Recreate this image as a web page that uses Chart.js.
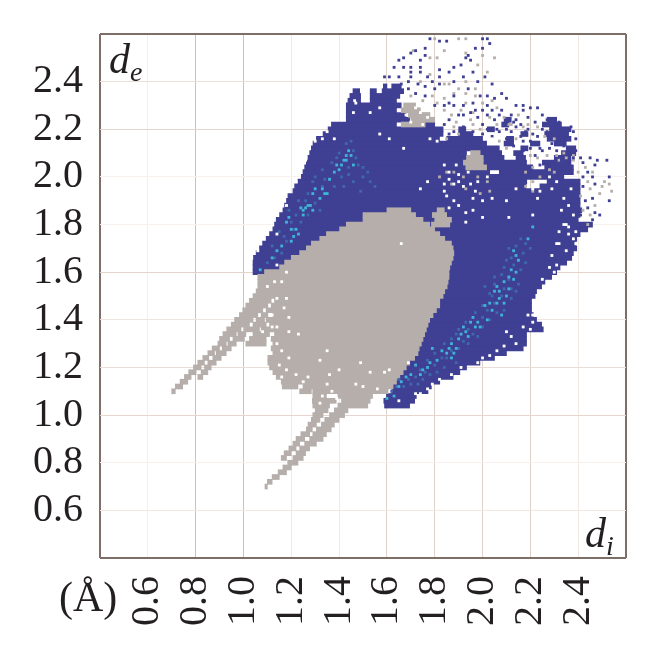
<!DOCTYPE html>
<html>
<head>
<meta charset="utf-8">
<script src="https://cdn.jsdelivr.net/npm/chart.js@4"></script>
<style>
  html, body { margin: 0; background: #fff; }
  #wrap { position: relative; width: 660px; height: 657px; }
  canvas { display: block; }
  .lbl { position: absolute; font-family: "Liberation Serif", serif; color: #231f20; line-height: 1; }
  .lbl i sub { font-size: 28px; vertical-align: -8px; line-height: 0; }
</style>
</head>
<body>
<div id="wrap">
  <canvas id="fingerprint" width="660" height="657"></canvas>
  <div class="lbl" style="left:109px;top:38px;font-size:42px"><i>d<sub>e</sub></i></div>
  <div class="lbl" style="left:585px;top:512px;font-size:42px"><i>d<sub>i</sub></i></div>
  <div class="lbl" style="left:59px;top:576px;font-size:42px">(Å)</div>
</div>
<script>
// tick positions, labels only on the inner ones
const tickValues = [0.4, 0.6, 0.8, 1.0, 1.2, 1.4, 1.6, 1.8, 2.0, 2.2, 2.4, 2.6];
const gridX = ["#7d6e68", "#f6eeea", "#d3bfb6", "#d3bfb6", "#f3e9e4", "#f3e9e4", "#e0d2ca", "#e0d2ca", "#e0d2ca", "#ddcec6", "#f1e8e3", "#7d6e68"];
const gridY = ["#7d6e68", "#f3e7e2", "#f8f0ec", "#e6d6ce", "#eadcd6", "#efe4de", "#e2d3cb", "#f8f1ee", "#f8f1ee", "#e4d6cf", "#ecdfd9", "#7d6e68"];

// [de, di from, di to]
const blueSpans = [
  [1.04,1.59,1.695],[1.06,1.587,1.716],[1.08,1.598,1.723],[1.10,1.62,1.772],[1.12,1.626,1.786],[1.14,1.64,1.821],
  [1.16,1.654,1.877],[1.18,1.668,1.905],[1.20,1.681,1.933],[1.22,1.695,1.989],[1.24,1.716,2.05],[1.26,1.73,2.10],
  [1.28,1.735,2.17],[1.30,1.744,2.184],[1.32,1.751,2.184],[1.34,1.758,2.184],[1.36,1.765,2.254],[1.38,1.772,2.247],
  [1.40,1.779,2.226],[1.42,1.793,2.212],[1.44,1.807,2.205],[1.46,1.821,2.205],[1.48,1.821,2.205],[1.50,1.835,2.22],
  [1.52,1.842,2.226],[1.54,1.852,2.247],[1.56,1.856,2.261],[1.58,1.86,2.289],[1.60,1.04,2.31],[1.62,1.04,2.324],
  [1.64,1.04,2.352],[1.66,1.042,2.373],[1.68,1.053,2.38],[1.70,1.067,2.394],[1.72,1.08,2.387],[1.74,1.095,2.394],
  [1.76,1.109,2.408],[1.78,1.123,2.44],[1.80,1.13,2.46],[1.82,1.137,2.40],[1.84,1.151,2.408],[1.86,1.165,2.415],
  [1.88,1.172,2.408],[1.90,1.18,2.408],[1.92,1.186,2.408],[1.94,1.207,2.408],
  [1.96,1.214,2.18],[1.96,2.24,2.408],[1.98,1.228,2.185],[1.98,2.27,2.408],[2.00,1.242,2.34],
  [2.02,1.249,2.03],[2.02,2.07,2.38],
  [2.04,1.256,1.93],[2.04,2.017,2.21],[2.04,2.26,2.38],
  [2.06,1.263,1.92],[2.06,2.003,2.184],[2.06,2.25,2.37],
  [2.08,1.27,1.933],[2.08,2.003,2.09],[2.08,2.14,2.18],[2.08,2.30,2.37],
  [2.10,1.277,1.933],[2.10,1.99,2.08],[2.10,2.13,2.17],[2.10,2.33,2.39],
  [2.12,1.284,2.07],[2.12,2.16,2.19],[2.12,2.35,2.39],
  [2.14,1.291,2.017],[2.14,2.09,2.13],[2.14,2.20,2.24],[2.14,2.30,2.35],
  [2.16,1.305,1.82],[2.16,1.85,2.00],[2.16,2.10,2.13],[2.16,2.27,2.37],
  [2.18,1.333,1.835],[2.18,1.90,1.96],[2.18,2.16,2.19],[2.18,2.26,2.36],
  [2.20,1.354,1.835],[2.20,1.90,1.93],[2.20,2.02,2.05],[2.20,2.28,2.37],
  [2.22,1.368,1.64],[2.22,1.76,1.80],[2.22,2.08,2.11],[2.22,2.25,2.33],
  [2.24,1.43,1.695],[2.24,2.09,2.12],[2.24,2.27,2.31],
  [2.26,1.43,1.68],[2.28,1.43,1.64],[2.30,1.43,1.66],
  [2.32,1.437,1.49],[2.32,1.53,1.64],[2.34,1.445,1.49],[2.34,1.53,1.654],[2.36,1.458,1.486],[2.36,1.53,1.556],
  [2.36,1.58,1.67],[2.38,1.585,1.60],[2.38,1.62,1.66]
];

const greySpans = [
  [0.70,1.09,1.10],[0.72,1.10,1.12],[0.74,1.12,1.15],[0.76,1.145,1.18],[0.78,1.165,1.20],[0.80,1.185,1.228],
  [0.82,1.158,1.18],[0.82,1.207,1.25],[0.84,1.17,1.20],[0.84,1.22,1.26],[0.86,1.19,1.22],[0.86,1.235,1.277],
  [0.88,1.207,1.235],[0.88,1.256,1.305],[0.90,1.22,1.256],[0.90,1.277,1.333],[0.92,1.24,1.277],[0.92,1.29,1.347],
  [0.94,1.263,1.288],[0.94,1.305,1.367],[0.96,1.27,1.305],[0.96,1.326,1.38],[0.98,1.284,1.32],[0.98,1.34,1.40],
  [1.00,1.29,1.333],[1.00,1.36,1.423],[1.02,1.30,1.354],[1.02,1.38,1.437],[1.04,1.29,1.36],[1.04,1.395,1.52],
  [1.06,1.288,1.388],[1.06,1.41,1.53],[1.08,1.29,1.347],[1.08,1.395,1.54],[1.10,1.235,1.284],[1.10,1.29,1.605],
  [1.12,1.162,1.228],[1.12,1.249,1.626],[1.14,1.158,1.64],[1.16,1.137,1.654],[1.18,1.123,1.668],[1.20,1.109,1.681],
  [1.22,1.102,1.695],[1.24,1.102,1.716],[1.26,1.123,1.73],[1.28,1.116,1.735],
  [1.10,0.70,0.715],[1.12,0.715,0.746],[1.14,0.735,0.767],[1.16,0.753,0.781],[1.16,0.809,0.83],[1.18,0.771,0.802],
  [1.18,0.823,0.851],[1.20,0.791,0.823],[1.20,0.837,0.865],[1.22,0.809,0.837],[1.22,0.851,0.886],[1.24,0.83,0.855],
  [1.24,0.872,0.907],[1.26,0.851,0.879],[1.26,0.886,0.928],[1.28,0.869,0.90],[1.28,0.911,0.949],
  [1.30,0.893,0.928],[1.30,0.935,0.97],[1.30,1.01,1.095],[1.30,1.123,1.744],
  [1.32,0.90,0.942],[1.32,0.956,1.004],[1.32,1.025,1.095],[1.32,1.116,1.751],
  [1.34,0.914,0.97],[1.34,0.977,1.01],[1.34,1.04,1.109],[1.34,1.13,1.758],
  [1.36,0.93,0.99],[1.36,1.004,1.067],[1.36,1.074,1.765],
  [1.38,0.949,1.025],[1.38,1.04,1.095],[1.38,1.109,1.772],
  [1.40,0.963,1.04],[1.40,1.053,1.088],[1.40,1.095,1.779],
  [1.42,0.983,1.06],[1.42,1.074,1.102],[1.42,1.123,1.793],
  [1.44,0.997,1.081],[1.44,1.095,1.807],[1.46,1.01,1.102],[1.46,1.116,1.821],[1.48,1.025,1.116],[1.48,1.13,1.821],
  [1.50,1.04,1.835],[1.52,1.053,1.842],[1.54,1.06,1.852],[1.56,1.06,1.856],[1.58,1.06,1.86],[1.60,1.088,1.86],
  [1.62,1.151,1.863],[1.64,1.172,1.87],[1.66,1.20,1.877],[1.68,1.235,1.88],[1.70,1.263,1.877],[1.72,1.284,1.87],
  [1.74,1.319,1.842],[1.76,1.347,1.821],[1.78,1.402,1.80],[1.80,1.43,1.779],[1.82,1.50,1.751],[1.84,1.50,1.72],
  [1.86,1.60,1.70],
  [1.80,1.786,1.863],[1.82,1.80,1.87],[1.84,1.79,1.85],[1.86,1.81,1.84],
  [2.04,1.93,2.017],[2.06,1.92,2.003],[2.08,1.933,2.003],[2.10,1.95,1.99],
  [2.22,1.66,1.76],[2.24,1.70,1.80],[2.26,1.69,1.78],[2.28,1.66,1.74],[2.30,1.67,1.72]
];

// lighter blue specks where the surface is denser
const midPoints = [
  [1.62,1.10],[1.64,1.12],[1.67,1.12],[1.69,1.15],[1.72,1.16],[1.75,1.15],[1.74,1.19],[1.78,1.17],[1.80,1.21],[1.77,1.23],
  [1.84,1.20],[1.80,1.26],[1.85,1.24],[1.89,1.22],[1.84,1.30],[1.90,1.28],[1.87,1.32],[1.94,1.30],[1.90,1.36],[1.96,1.34],
  [1.93,1.39],[2.00,1.37],[1.97,1.43],[2.03,1.40],[2.00,1.46],[2.05,1.47],[2.09,1.44],[2.03,1.51],[2.09,1.53],[2.12,1.49],
  [2.05,1.58],[2.11,1.57],[2.15,1.55],[2.09,1.62],[2.16,1.61],[2.12,1.66],[2.17,1.68],[2.11,1.70],[2.20,1.70],[2.16,1.74],
  [1.10,1.64],[1.13,1.66],[1.16,1.68],[1.12,1.71],[1.18,1.73],[1.15,1.77],[1.21,1.78],[1.24,1.81],[1.19,1.86],[1.27,1.84],
  [1.23,1.90],[1.30,1.89],[1.27,1.93],[1.33,1.96],[1.30,2.00],[1.36,1.99],[1.33,2.03],[1.41,2.00],[1.37,2.06],[1.44,2.04],
  [1.40,2.10],[1.47,2.08],[1.43,2.14],[1.46,2.11],[1.50,2.00],[1.53,1.98],[1.49,1.94],[1.55,1.96],[1.50,2.04],[1.46,1.98],
  [1.65,1.15],[1.70,1.13],[1.73,1.13],[1.76,1.18],[1.81,1.18],[1.83,1.24],[1.87,1.27],[1.92,1.31],[1.89,1.34],[1.94,1.36],
  [1.98,1.33],[2.00,1.41],[2.02,1.44],[2.06,1.43],[2.04,1.50],[2.08,1.50],[2.01,1.54],[2.05,1.55],[2.12,1.53],[2.14,1.52],
  [2.08,1.59],[2.13,1.63],[2.10,1.65],[2.18,1.64],[2.14,1.71],[2.18,1.72],[1.17,1.75],[1.20,1.81],[1.22,1.84],[1.26,1.90],
  [1.32,1.86],[1.29,1.98],[1.34,1.99],[1.38,1.96],[1.39,2.08],[1.44,2.01],[1.48,2.05],[1.52,2.02],[1.45,2.15],[1.42,1.96]
];

// [di, de]
const cyanPoints = [
  [2.06,1.54],[2.07,1.49],[2.10,1.50],[2.13,1.57],[2.14,1.67],[2.21,1.79],[1.98,1.39],[1.96,1.41],[2.04,1.44],[1.93,1.35],
  [1.91,1.34],[1.86,1.28],[1.88,1.26],[1.79,1.28],[1.81,1.23],[1.75,1.19],[1.72,1.21],[1.66,1.14],[1.63,1.08],[1.60,1.07],
  [1.77,1.20],[2.12,1.61],[2.09,1.56],[2.19,1.74],[1.43,2.09],[1.44,2.11],[1.40,2.03],[1.34,1.93],[1.30,1.95],[1.26,1.87],
  [1.25,1.86],[1.28,1.88],[1.19,1.83],[1.21,1.75],[1.23,1.76],[1.14,1.69],[1.07,1.61],[1.38,2.02],[1.46,2.05],[1.42,2.07],
  [1.43,2.07],[1.45,2.09],[1.41,2.05],[1.39,2.05],[1.33,1.95],[1.35,1.93],[1.32,1.91],[1.29,1.93],[1.27,1.88],[1.29,1.86],
  [1.24,1.87],[1.25,1.84],[1.20,1.78],[1.22,1.78],[1.18,1.81],[1.16,1.71],[1.20,1.73],[1.12,1.66],[1.36,1.99],
  [2.05,1.52],[2.07,1.52],[2.09,1.47],[2.06,1.47],[2.11,1.53],[2.14,1.60],[2.15,1.65],[2.13,1.69],[2.11,1.58],[1.99,1.37],
  [1.97,1.37],[1.95,1.39],[2.02,1.40],[1.94,1.33],[1.90,1.32],[1.87,1.30],[1.85,1.26],[1.87,1.24],[1.89,1.28],[1.83,1.27],
  [1.78,1.22],[1.74,1.17],[1.70,1.17],[1.68,1.16],[1.65,1.12],[1.92,1.37],[2.01,1.46],[2.03,1.47],[2.08,1.42]
];
const bluePoints = [
  [1.78,2.58],[1.82,2.57],[1.85,2.57],[2.00,2.58],[2.02,2.58],[2.03,2.56],[1.97,2.54],[2.00,2.54],[1.72,2.53],[1.70,2.52],
  [1.76,2.54],[1.76,2.51],[1.67,2.50],[1.65,2.49],[1.63,2.46],[1.67,2.46],[1.70,2.46],[1.74,2.49],[1.74,2.46],[1.70,2.44],
  [1.74,2.44],[1.70,2.42],[1.82,2.45],[1.82,2.42],[1.82,2.39],[1.86,2.44],[1.88,2.46],[1.91,2.47],[1.94,2.51],[1.95,2.49],
  [1.93,2.50],[1.59,2.42],[1.61,2.42],[1.65,2.42],[1.66,2.39],[1.69,2.37],[1.72,2.35],[1.77,2.42],[1.79,2.40],[1.76,2.38],
  [2.02,2.34],[2.05,2.33],[2.08,2.35],[2.10,2.33],[2.14,2.30],[2.17,2.30],[2.20,2.29],[2.23,2.29],[2.02,2.30],[2.04,2.28],
  [2.07,2.26],[2.10,2.23],[2.17,2.28],[2.27,2.24],[2.30,2.24],[2.32,2.23],[2.37,2.21],[2.38,2.19],[1.97,2.28],[1.95,2.27],
  [1.90,2.26],[1.86,2.24],[1.84,2.22],[2.00,2.22],[2.04,2.17],[2.07,2.19],[2.14,2.21],[2.21,2.18],[2.27,2.19],[2.32,2.18],
  [2.35,2.16],[2.39,2.16],[2.29,2.14],[2.34,2.13],[2.39,2.11],[2.45,2.08],[2.48,2.07],[2.52,2.07],[2.47,2.05],[2.53,2.00],
  [2.46,2.00],[2.53,1.90],[2.49,1.84],[2.46,1.82],[2.41,2.08],[2.38,2.08],[2.24,2.12],[2.20,2.15],[2.17,2.15],[2.12,2.16],
  [2.00,2.28],[2.02,2.26],[2.05,2.24],[2.08,2.28],[2.12,2.26],[2.14,2.24],[2.16,2.22],[2.19,2.25],[2.22,2.23],[2.25,2.26],
  [2.12,2.19],[2.16,2.17],[2.19,2.20],[2.23,2.17],[2.25,2.20],[2.10,2.16],[2.13,2.13],[2.17,2.11],[2.20,2.12],[2.22,2.09],
  [2.25,2.11],[2.28,2.12],[2.31,2.11],[2.33,2.07],[2.29,2.06],[2.24,2.05],[2.42,2.06],[2.44,2.02],[2.42,2.00],[2.47,1.97],
  [2.42,1.96],[2.46,1.91],[2.43,1.90],[2.44,1.87],[2.47,1.85],[2.41,1.84],[1.92,2.30],[1.88,2.30],[1.84,2.30],[1.80,2.30],
  [1.96,2.31],[1.99,2.34],[1.94,2.37],[1.98,2.40],[2.04,2.39],[2.01,2.42],[1.96,2.44],[1.92,2.42],[1.88,2.40],[1.76,2.34],
  [1.80,2.37],[1.73,2.39],[1.69,2.40],[1.88,2.34],[1.86,2.31],[1.92,2.26],[1.98,2.25],[2.02,2.20],[1.96,2.19],[2.00,2.18],
  [1.92,2.21],[1.88,2.19],[1.86,2.18],[2.06,2.20],[2.10,2.20],[2.13,2.23],[2.18,2.19]
];
const greyPoints = [
  [1.71,2.53],[1.80,2.58],[1.84,2.53],[1.90,2.58],[1.93,2.58],[1.93,2.52],[2.00,2.51],[2.05,2.50],[1.81,2.50],[1.78,2.50],
  [1.74,2.40],[1.78,2.43],[1.93,2.40],[1.90,2.37],[1.84,2.39],[1.86,2.39],[1.98,2.47],[2.02,2.44],[1.93,2.35],[1.97,2.37],
  [1.79,2.34],[2.46,2.02],[2.51,1.98],[2.53,1.97],[2.54,1.94],[2.45,1.95],[2.49,1.93],[2.44,1.98],[2.43,2.04],[2.38,2.07],
  [2.35,2.08],[2.45,1.84],[2.44,1.80],[2.42,1.86],[2.38,2.09],[1.85,2.02],[1.88,2.02],[1.92,2.00],[1.98,2.00],[2.02,1.98],
  [1.87,1.97],[1.93,1.95],[1.99,1.93],[1.82,2.00],[2.03,1.94],[2.21,1.98],[2.21,1.94],[2.18,2.02],[2.07,2.15],[2.10,2.12],
  [2.14,2.16],[2.20,2.09],[2.23,2.08],[2.21,2.04],[2.27,2.09],[2.31,2.09],[2.32,2.07],[1.90,2.18],[1.96,2.22],[1.88,2.21],
  [1.85,2.16],[1.89,2.23],[2.11,2.22],[2.06,2.22],[1.96,2.27],[2.17,2.21],
  [1.70,2.34],[1.75,2.32],[1.81,2.31],[1.84,2.33],[1.88,2.35],[1.93,2.31],[1.97,2.34],[2.00,2.31],[2.04,2.32],[1.84,2.28],
  [1.87,2.26],[1.91,2.28],[1.95,2.24],[1.99,2.20],[2.03,2.25],[2.06,2.29],[2.09,2.25],[2.12,2.22],[2.15,2.26],[2.19,2.22],
  [2.23,2.21],[2.26,2.17],[2.30,2.16],[2.34,2.10],[2.28,2.03],[2.30,2.02],[2.18,1.96],[2.24,2.00],[2.40,2.02],[2.41,1.92],
  [2.47,1.88],[2.50,1.96]
];
const whitePoints = [
  [2.34,1.80],[2.36,1.79],[2.39,1.72],[2.32,1.72],[2.35,1.69],[2.39,1.77],[2.32,1.77],[2.21,1.42],[2.19,1.42],[2.21,1.39],
  [2.17,1.37],[2.10,1.35],[2.09,1.29],[2.14,1.30],[2.03,1.25],[1.98,1.22],[1.91,1.20],[1.79,1.13],[1.74,1.09],[1.72,1.09],
  [1.65,1.06],[2.25,1.57],[2.30,1.60],[2.31,1.63],[1.57,2.29],[1.53,2.27],[1.84,2.05],[1.86,2.02],[1.89,2.05],[1.86,1.99],
  [1.90,1.98],[1.95,1.97],[1.84,1.94],[1.88,1.90],[1.96,1.91],[1.93,1.85],[2.00,1.83],[1.93,1.81],[2.10,1.90],[2.14,1.95],
  [2.21,1.95],[2.23,1.91],[2.29,1.95],[2.31,1.98],[2.34,1.91],[2.37,1.95],[2.35,1.80],[2.31,1.72],[2.21,1.84],[2.11,1.83],
  [1.77,1.98],[1.74,1.95],[1.61,2.16],[1.57,2.18],[1.67,2.12],[1.78,2.16],[1.81,2.15],[2.04,2.16],[1.18,1.88],[1.22,1.98],
  [1.26,2.07],[1.30,2.15],[1.33,2.16],[1.35,2.19],[1.38,2.16],[1.14,1.76],[1.06,1.69],[1.47,2.31],[1.465,2.32],[1.46,2.27],
  [1.66,1.72],[1.23,1.34],[1.35,1.27],[1.32,1.23],[1.40,1.19],[1.36,1.17],[1.14,1.30],[1.16,1.27],[1.19,1.24],[1.15,1.21],
  [1.18,1.19],[1.16,1.16],[1.22,1.17],[1.27,1.16],[1.25,1.14],[1.35,1.13],[1.37,1.10],[1.33,1.08],[1.32,1.05],[1.39,1.07],
  [1.47,1.13],[1.19,1.41],[1.17,1.45],[1.08,1.35],[1.12,1.42],[1.18,1.49],[1.14,1.49],[1.12,1.37],[1.14,1.37],[1.19,1.35],
  [1.53,1.18],[1.59,1.18],[1.61,1.19],[1.49,1.22],[1.69,1.22],[1.50,1.12],[1.56,1.11],[1.14,1.63],[1.18,1.60],[1.13,1.56],
  [1.16,1.56],[1.10,1.54],
  [1.70,2.23],[1.74,2.27],[1.72,2.29],[1.77,2.25],[1.68,2.26],[1.75,2.22],[1.84,1.97],[1.88,1.97],[1.92,1.96],[1.98,1.98],
  [2.02,2.00],[1.85,1.92],[1.90,2.01],[1.94,2.02],[1.97,1.94],[2.00,1.90],[1.90,1.88],[1.96,1.86],[2.04,1.91],[1.86,1.87],
  [2.26,1.98],[2.28,2.00],[2.22,1.96],[2.24,1.94],[2.36,1.88],[2.38,1.84],[2.33,1.86],[2.36,1.76],[2.38,1.74],[2.29,1.67],
  [2.28,1.62],[2.22,1.47],[2.20,1.36],[2.12,1.33],[2.06,1.27],[2.00,1.24],[1.87,1.17],[1.82,1.15],[1.77,1.11]
];

const GREY = "#b5aeaa", BLUE = "#3f3f93", MID = "#3f68ad", CYAN = "#3fb4d6";

function barSet(spans, color, order) {
  return {
    type: "bar", indexAxis: "y", grouped: false, order: order,
    data: spans.map(s => ({ y: s[0], x: [s[1], s[2]] })),
    backgroundColor: color, borderWidth: 0, barThickness: 5
  };
}
function dotSet(points, color, order) {
  return {
    type: "scatter", order: order,
    data: points.map(p => ({ x: p[0], y: p[1] })),
    backgroundColor: color, pointStyle: "rect", pointRadius: 2, pointBorderWidth: 0
  };
}

function axisOpts(colors, extra) {
  return Object.assign({
    type: "linear", min: 0.4, max: 2.6, offset: false,
    afterBuildTicks: s => { s.ticks = tickValues.map(v => ({ value: v })); },
    grid: {
      offset: false,
      color: c => c.tick ? colors[tickValues.indexOf(c.tick.value)] : "#ffffff",
      lineWidth: c => (c.tick && (c.tick.value === 0.4 || c.tick.value === 2.6)) ? 2 : 1,
      drawTicks: false
    },
    border: { display: false }
  }, extra);
}
const tickFont = { family: "Liberation Serif", size: 40 };
const tickLabel = v => (v === 0.4 || v === 2.6) ? "" : v.toFixed(1);

new Chart(document.getElementById("fingerprint"), {
  type: "bar",
  data: {
    datasets: [
      barSet(blueSpans, BLUE, 6), barSet(greySpans, GREY, 5),
      dotSet(midPoints, MID, 4), dotSet(bluePoints, BLUE, 3), dotSet(greyPoints, GREY, 3), dotSet(whitePoints, "#ffffff", 2), dotSet(cyanPoints, CYAN, 1)
    ]
  },
  options: {
    responsive: false,
    animation: false,
    layout: { padding: { top: 34, right: 34, left: 0, bottom: 0 } },
    plugins: { legend: { display: false }, tooltip: { enabled: false } },
    scales: {
      x: axisOpts(gridX, {
        ticks: { autoSkip: false, minRotation: 90, maxRotation: 90, font: tickFont, color: "#231f20", padding: 18, callback: tickLabel },
        afterFit: s => { s.height = 99; s.paddingLeft = 0; s.paddingRight = 0; }
      }),
      y: axisOpts(gridY, {
        ticks: { autoSkip: false, font: tickFont, color: "#231f20", padding: 17, callback: tickLabel },
        afterFit: s => { s.width = 100; s.paddingTop = 0; s.paddingBottom = 0; }
      })
    }
  }
});
</script>
</body>
</html>
